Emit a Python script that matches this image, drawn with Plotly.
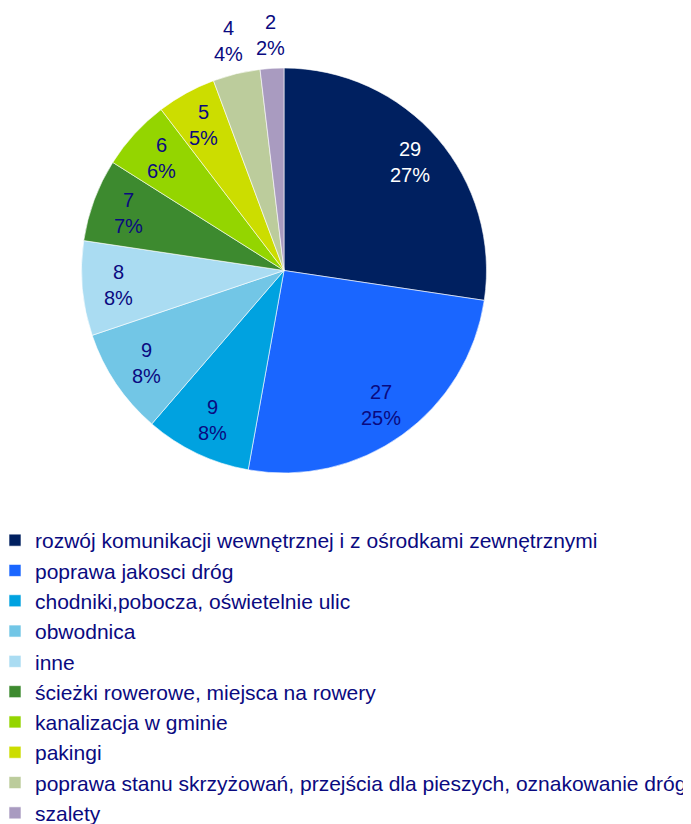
import math
import plotly.graph_objects as go

labels = [
    "rozwój komunikacji wewnętrznej i z ośrodkami zewnętrznymi",
    "poprawa jakosci dróg",
    "chodniki,pobocza, oświetelnie ulic",
    "obwodnica",
    "inne",
    "ścieżki rowerowe, miejsca na rowery",
    "kanalizacja w gminie",
    "pakingi",
    "poprawa stanu skrzyżowań, przejścia dla pieszych, oznakowanie dróg",
    "szalety",
]
values = [29, 27, 9, 9, 8, 7, 6, 5, 4, 2]
colors = ["#002060", "#1a66ff", "#00a2e0", "#72c6e6", "#aadcf2",
          "#3d8a2f", "#94d500", "#ccdd00", "#bccc9c", "#a99bc0"]
text_colors = ["#ffffff"] + ["#0a0a80"] * 9
label_outside = [False] * 8 + [True] * 2

W, H = 691, 824
OFF = 8  # page body margin offset
cx, cy, r = 284 - OFF, 270.5 - OFF, 202.5
FONT = "Liberation Sans, Arial"

fig = go.Figure(go.Pie(
    labels=labels,
    values=values,
    sort=False,
    direction="clockwise",
    rotation=0,
    marker=dict(colors=colors, line=dict(color="#ffffff", width=0.6)),
    textinfo="none",
    hoverinfo="label+value+percent",
    domain=dict(x=[(cx - r) / W, (cx + r) / W], y=[1 - (cy + r) / H, 1 - (cy - r) / H]),
))

# data labels placed at the angular middle of each slice (derived from values)
total = sum(values)
cum = 0
annotations = []
for v, col, out in zip(values, text_colors, label_outside):
    mid = (cum + v / 2) / total * 2 * math.pi
    cum += v
    d = r * (1.165 if out else 0.82)
    x = cx + d * math.sin(mid)
    y = cy - d * math.cos(mid)
    pct = round(v / total * 100)
    annotations.append(dict(
        x=x / W, y=1 - y / H, xref="paper", yref="paper",
        text=f"{v}<br>{pct}%", showarrow=False,
        xanchor="center", yanchor="middle", align="center",
        font=dict(family=FONT, size=20, color=col),
    ))

fig.update_layout(
    width=W, height=H,
    margin=dict(l=0, r=0, t=0, b=0, autoexpand=False),
    paper_bgcolor="white",
    plot_bgcolor="white",
    showlegend=True,
    annotations=annotations,
    legend=dict(
        x=-13 / W, y=1 - 512 / H, xanchor="left", yanchor="top",
        font=dict(family=FONT, size=21.0, color="#0a0a80"),
        itemwidth=30, tracegroupgap=0,
        bgcolor="rgba(0,0,0,0)",
    ),
)

fig.write_html("out.html")
